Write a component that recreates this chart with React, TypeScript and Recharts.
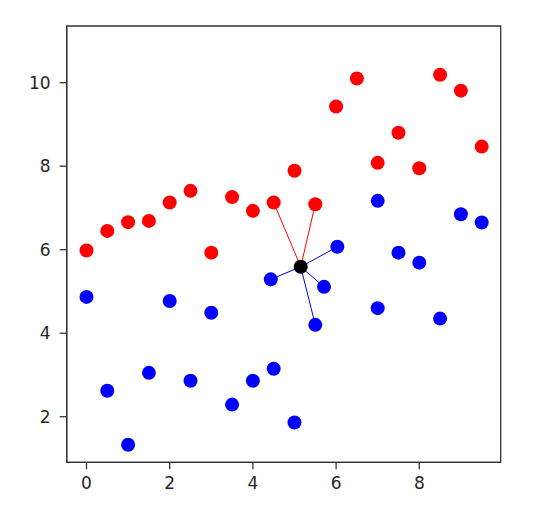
import React from 'react';
import { ScatterChart, Scatter, XAxis, YAxis, ReferenceArea } from 'recharts';

const redX = [0, 0.5, 1, 1.5, 2, 2.5, 3, 3.5, 4, 4.5, 5, 5.5, 6, 6.5, 7, 7.5, 8, 8.5, 9, 9.5];
const redY = [5.98, 6.45, 6.66, 6.69, 7.13, 7.41, 5.93, 7.26, 6.93, 7.13, 7.89, 7.09, 9.43, 10.1, 8.08, 8.8, 7.95, 10.19, 9.81, 8.47];
const blueX = [0, 0.5, 1, 1.5, 2, 2.5, 3, 3.5, 4, 4.43, 4.5, 5, 5.5, 5.71, 6.03, 7, 7, 7.5, 8, 8.5, 9, 9.5];
const blueY = [4.87, 2.62, 1.33, 3.05, 4.77, 2.86, 4.49, 2.29, 2.86, 5.29, 3.15, 1.86, 4.2, 5.11, 6.07, 4.6, 7.17, 5.93, 5.69, 4.35, 6.85, 6.65];
const centerX = 5.15;
const centerY = 5.59;
const redNeighborX = [4.5, 5.5];
const redNeighborY = [7.13, 7.09];
const blueNeighborX = [4.43, 6.03, 5.71, 5.5];
const blueNeighborY = [5.29, 6.07, 5.11, 4.2];
const xTicks = [0, 2, 4, 6, 8];
const yTicks = [2, 4, 6, 8, 10];
const xDomain = [-0.476, 9.957];
const yDomain = [0.908, 11.358];

const redData = redX.map((x, i) => ({ x, y: redY[i] }));
const blueData = blueX.map((x, i) => ({ x, y: blueY[i] }));
const centerData = [{ x: centerX, y: centerY }];
const segments = [
  ...redNeighborX.map((x, i) => ({ color: '#ff0000', data: [{ x: centerX, y: centerY }, { x, y: redNeighborY[i] }] })),
  ...blueNeighborX.map((x, i) => ({ color: '#0000ff', data: [{ x: centerX, y: centerY }, { x, y: blueNeighborY[i] }] })),
];

const dot = (fill: string) => (p: any) => <circle cx={p.cx} cy={p.cy} r={7} fill={fill} />;
const none = () => <g />;

const tickStyle = { fill: '#262626', fontSize: 17, fontFamily: 'DejaVu Sans' };

export default function App() {
  return (
    <div style={{ background: '#fff', width: 526, height: 508 }}>
      <ScatterChart width={526} height={508} margin={{ top: 18, right: 33.3, bottom: 13.7, left: 8.7 }}>
        <XAxis
          type="number"
          dataKey="x"
          domain={xDomain}
          ticks={xTicks}
          allowDataOverflow
          height={40}
          tick={tickStyle}
          tickSize={7}
          tickMargin={8}
          stroke="#333"
          axisLine={{ stroke: '#333', strokeWidth: 1.3 }}
          tickLine={{ stroke: '#333', strokeWidth: 1.3 }}
        />
        <YAxis
          type="number"
          dataKey="y"
          domain={yDomain}
          ticks={yTicks}
          allowDataOverflow
          width={50}
          tick={tickStyle}
          tickSize={7}
          tickMargin={9}
          stroke="#333"
          axisLine={{ stroke: '#333', strokeWidth: 1.3 }}
          tickLine={{ stroke: '#333', strokeWidth: 1.3 }}
        />
        <ReferenceArea x1={xDomain[0]} x2={xDomain[1]} y1={yDomain[0]} y2={yDomain[1]} fill="none" fillOpacity={0} stroke="#333" strokeWidth={1.3} strokeOpacity={1} />
        {segments.map((s, i) => (
          <Scatter key={i} data={s.data} line={{ stroke: s.color, strokeWidth: 1 }} shape={none} isAnimationActive={false} />
        ))}
        <Scatter data={redData} shape={dot('#ff0000')} isAnimationActive={false} />
        <Scatter data={blueData} shape={dot('#0000ff')} isAnimationActive={false} />
        <Scatter data={centerData} shape={dot('#000000')} isAnimationActive={false} />
      </ScatterChart>
    </div>
  );
}
